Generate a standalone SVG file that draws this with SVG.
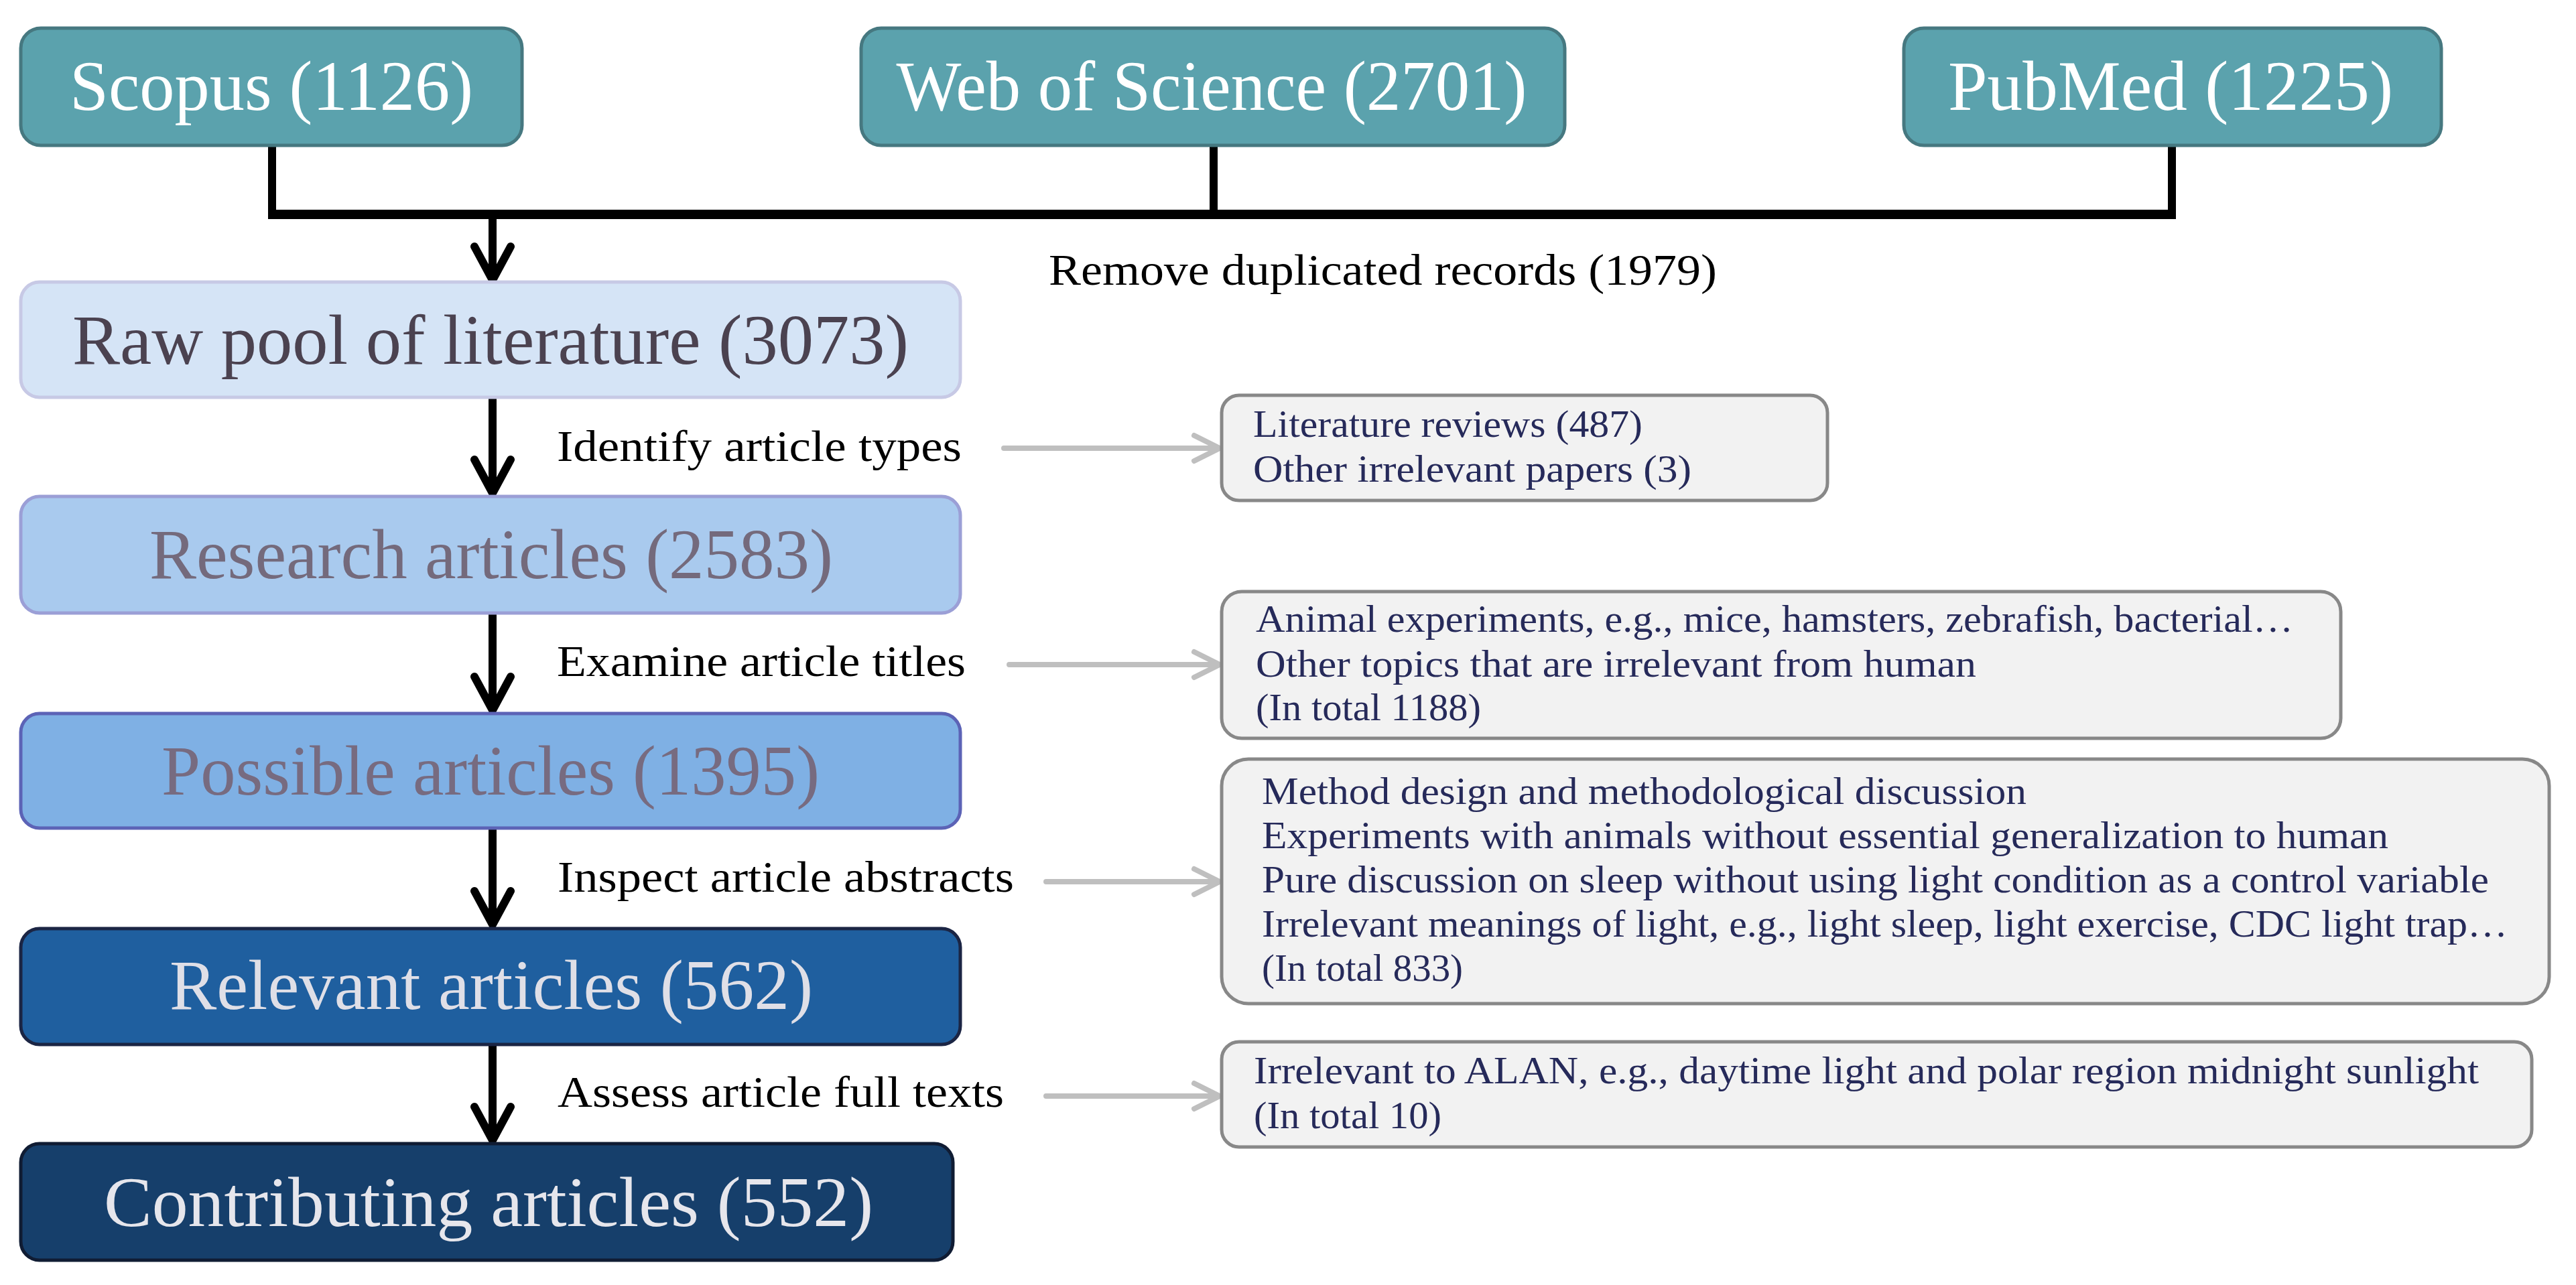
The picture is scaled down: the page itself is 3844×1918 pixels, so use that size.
<svg xmlns="http://www.w3.org/2000/svg" width="3844" height="1918" viewBox="0 0 3844 1918">
<defs>
<style>
text{font-family:"Liberation Serif","DejaVu Serif",serif;}
.src rect{fill:#5BA2AD;stroke:#467880;stroke-width:5;}
.src text{fill:#FFFFFF;font-size:106px;text-anchor:middle;}
.main text{font-size:105px;text-anchor:middle;}
.lbl{fill:#000000;font-size:66px;}
.ex rect{fill:#F2F2F2;stroke:#888888;stroke-width:5;}
.ex text{fill:#262A5A;font-size:56px;}
.blk{stroke:#000000;fill:none;stroke-width:12;}
.ah{stroke:#000000;fill:none;stroke-width:12;stroke-linecap:round;stroke-linejoin:miter;}
.gl{stroke:#BFBFBF;fill:none;stroke-width:8;stroke-linecap:round;stroke-linejoin:round;}
</style>
</defs>
<rect width="3844" height="1918" fill="#FFFFFF"/>

<g id="connectors">
  <path class="blk" d="M406 217 V320 M1811 217 V320 M3241 217 V320"/>
  <path class="blk" style="stroke-width:14" d="M400 320 H3247"/>
  <path class="blk" d="M735 320 V416"/>
  <path class="ah" d="M708 368 L735 418 L762 368"/>
  <path class="blk" d="M735 594 V734"/>
  <path class="ah" d="M708 686 L735 736 L762 686"/>
  <path class="blk" d="M735 917 V1058"/>
  <path class="ah" d="M708 1010 L735 1060 L762 1010"/>
  <path class="blk" d="M735 1237 V1378"/>
  <path class="ah" d="M708 1330 L735 1380 L762 1330"/>
  <path class="blk" d="M735 1560 V1700"/>
  <path class="ah" d="M708 1652 L735 1702 L762 1652"/>
  <path class="gl" d="M1498 669 H1818 M1782 650 L1820 669 L1782 688"/>
  <path class="gl" d="M1506 992 H1818 M1782 973 L1820 992 L1782 1011"/>
  <path class="gl" d="M1561 1316 H1818 M1782 1297 L1820 1316 L1782 1335"/>
  <path class="gl" d="M1561 1636 H1818 M1782 1617 L1820 1636 L1782 1655"/>
  <text class="lbl" x="1565" y="425" textLength="997" lengthAdjust="spacingAndGlyphs">Remove duplicated records (1979)</text>
  <text class="lbl" x="831" y="688" textLength="604" lengthAdjust="spacingAndGlyphs">Identify article types</text>
  <text class="lbl" x="831" y="1009" textLength="610" lengthAdjust="spacingAndGlyphs">Examine article titles</text>
  <text class="lbl" x="832" y="1331" textLength="681" lengthAdjust="spacingAndGlyphs">Inspect article abstracts</text>
  <text class="lbl" x="832" y="1652" textLength="666" lengthAdjust="spacingAndGlyphs">Assess article full texts</text>
</g>

<g id="scopus" class="src">
  <rect x="31" y="42" width="748" height="175" rx="30"/>
  <text x="405" y="164" textLength="602" lengthAdjust="spacingAndGlyphs">Scopus (1126)</text>
</g>
<g id="wos" class="src">
  <rect x="1285" y="42" width="1050" height="175" rx="30"/>
  <text x="1808" y="164" textLength="941" lengthAdjust="spacingAndGlyphs">Web of Science (2701)</text>
</g>
<g id="pubmed" class="src">
  <rect x="2841" y="42" width="802" height="175" rx="30"/>
  <text x="3239" y="164" textLength="664" lengthAdjust="spacingAndGlyphs">PubMed (1225)</text>
</g>

<g id="raw" class="main">
  <rect x="31" y="421" width="1402" height="172" rx="28" fill="#D5E4F6" stroke="#C7C9E5" stroke-width="5"/>
  <text x="732" y="543" fill="#4B4250" textLength="1248" lengthAdjust="spacingAndGlyphs">Raw pool of literature (3073)</text>
</g>
<g id="research" class="main">
  <rect x="31" y="741" width="1402" height="174" rx="28" fill="#A9CAEE" stroke="#9B9FD6" stroke-width="5"/>
  <text x="733" y="863" fill="#746A7C" textLength="1020" lengthAdjust="spacingAndGlyphs">Research articles (2583)</text>
</g>
<g id="possible" class="main">
  <rect x="31" y="1065" width="1402" height="171" rx="28" fill="#7FB0E4" stroke="#5C63B6" stroke-width="5"/>
  <text x="732" y="1186" fill="#776B80" textLength="982" lengthAdjust="spacingAndGlyphs">Possible articles (1395)</text>
</g>
<g id="relevant" class="main">
  <rect x="31" y="1386" width="1402" height="173" rx="28" fill="#1F5F9F" stroke="#1B2544" stroke-width="5"/>
  <text x="733" y="1506" fill="#DFDFE7" textLength="960" lengthAdjust="spacingAndGlyphs">Relevant articles (562)</text>
</g>
<g id="contributing" class="main">
  <rect x="31" y="1707" width="1391" height="174" rx="28" fill="#163F6B" stroke="#101C33" stroke-width="5"/>
  <text x="729" y="1830" fill="#E6E6EC" textLength="1148" lengthAdjust="spacingAndGlyphs">Contributing articles (552)</text>
</g>

<g id="excl-types" class="ex">
  <rect x="1823" y="590" width="904" height="157" rx="26"/>
  <text x="1870" y="652" textLength="581" lengthAdjust="spacingAndGlyphs">Literature reviews (487)</text>
  <text x="1870" y="719" textLength="654" lengthAdjust="spacingAndGlyphs">Other irrelevant papers (3)</text>
</g>
<g id="excl-titles" class="ex">
  <rect x="1823" y="883" width="1670" height="219" rx="30"/>
  <text x="1874" y="943" textLength="1548" lengthAdjust="spacingAndGlyphs">Animal experiments, e.g., mice, hamsters, zebrafish, bacterial…</text>
  <text x="1874" y="1010" textLength="1075" lengthAdjust="spacingAndGlyphs">Other topics that are irrelevant from human</text>
  <text x="1874" y="1075" textLength="336" lengthAdjust="spacingAndGlyphs">(In total 1188)</text>
</g>
<g id="excl-abstracts" class="ex">
  <rect x="1823" y="1133" width="1981" height="365" rx="40"/>
  <text x="1883" y="1200" textLength="1141" lengthAdjust="spacingAndGlyphs">Method design and methodological discussion</text>
  <text x="1883" y="1266" textLength="1681" lengthAdjust="spacingAndGlyphs">Experiments with animals without essential generalization to human</text>
  <text x="1883" y="1332" textLength="1831" lengthAdjust="spacingAndGlyphs">Pure discussion on sleep without using light condition as a control variable</text>
  <text x="1883" y="1398" textLength="1859" lengthAdjust="spacingAndGlyphs">Irrelevant meanings of light, e.g., light sleep, light exercise, CDC light trap…</text>
  <text x="1883" y="1464" textLength="300" lengthAdjust="spacingAndGlyphs">(In total 833)</text>
</g>
<g id="excl-fulltext" class="ex">
  <rect x="1823" y="1555" width="1955" height="157" rx="26"/>
  <text x="1871" y="1617" textLength="1828" lengthAdjust="spacingAndGlyphs">Irrelevant to ALAN, e.g., daytime light and polar region midnight sunlight</text>
  <text x="1871" y="1684" textLength="280" lengthAdjust="spacingAndGlyphs">(In total 10)</text>
</g>
</svg>
